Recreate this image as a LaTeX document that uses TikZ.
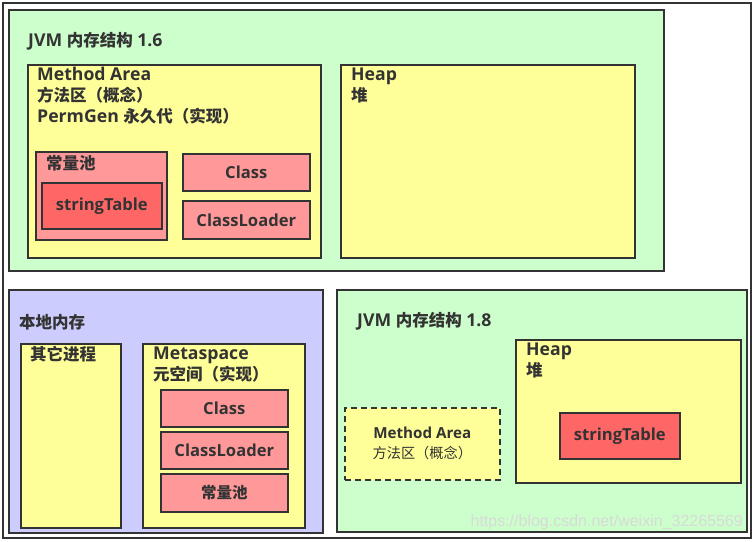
\documentclass[tikz,border=0pt]{standalone}
\usepackage{fontspec}
\setmainfont{Open Sans}[Scale=1.07]
\newfontfamily\cjk{Noto Sans CJK SC}
\newfontfamily\markfont{Liberation Sans}
\usetikzlibrary{positioning}
\definecolor{edge}{HTML}{333333}
\definecolor{jvmgreen}{HTML}{CCFFCC}
\definecolor{areayellow}{HTML}{FFFF99}
\definecolor{itempink}{HTML}{FF9999}
\definecolor{tablered}{HTML}{FF6666}
\definecolor{nativeblue}{HTML}{CCCCFF}

\tikzset{
  box/.style={draw=edge, line width=1.6pt, anchor=north west, inner sep=0pt},
  item/.style={box, fill=itempink, font=\bfseries\fontsize{15.5}{18}\selectfont, text=edge},
  lbl/.style={font=\bfseries\fontsize{16.5}{21}\selectfont, text=edge, anchor=west, align=left, inner sep=0pt},
}

\begin{document}
\begin{tikzpicture}[x=1pt, y=-1pt]
  \useasboundingbox (0,0) rectangle (754,541);
  \draw[edge, line width=1.4pt, fill=white] (3,3) rectangle (751,538);

  % JVM 1.6
  \node[box, fill=jvmgreen, minimum width=655pt, minimum height=261pt] (jvm16) at (8,9) {};
  \node[lbl] (jvm16title) at (28,41) {JVM {\cjk 内存结构} 1.6};
  \node[box, fill=areayellow, minimum width=293pt, minimum height=193pt] (ma16) at (27,64) {};
  \node[lbl] (ma16text) at (37,96) {Method Area\\{\cjk 方法区（概念）}\\PermGen {\cjk 永久代（实现）}};
  \node[box, fill=itempink, minimum width=131pt, minimum height=88pt] (pool16) at (35,151) {};
  \node[lbl] (pool16text) at (46,163) {\cjk 常量池};
  \node[item, fill=tablered, minimum width=120pt, minimum height=46pt] (st16) at (41,182) {stringTable};
  \node[item, minimum width=127pt, minimum height=37pt] (cls16) at (182,153) {Class};
  \node[item, minimum width=127pt, minimum height=38pt] (cl16) at (182,200) {ClassLoader};
  \node[box, fill=areayellow, minimum width=294pt, minimum height=193pt] (heap16) at (340,64) {};
  \node[lbl] (heap16text) at (351,85.5) {Heap\\{\cjk 堆}};

  % native memory
  \node[box, fill=nativeblue, minimum width=314pt, minimum height=243pt] (native) at (8,289) {};
  \node[lbl] (nativetitle) at (19,322) {\cjk 本地内存};
  \node[box, fill=areayellow, minimum width=100pt, minimum height=184pt] (other) at (20,343) {};
  \node[lbl] (othertext) at (30,354) {\cjk 其它进程};
  \node[box, fill=areayellow, minimum width=162pt, minimum height=184pt] (meta) at (142,343) {};
  \node[lbl] (metatext) at (153,364.5) {Metaspace\\{\cjk 元空间（实现）}};
  \node[item, minimum width=127pt, minimum height=37pt] (cls18) at (160,389) {Class};
  \node[item, minimum width=127pt, minimum height=37pt] (cl18) at (160,431) {ClassLoader};
  \node[item, minimum width=127pt, minimum height=38pt] (pool18) at (160,473) {\cjk 常量池};

  % JVM 1.8
  \node[box, fill=jvmgreen, minimum width=410pt, minimum height=242pt] (jvm18) at (336,289) {};
  \node[lbl] (jvm18title) at (357,321) {JVM {\cjk 内存结构} 1.8};
  \node[box, fill=areayellow, minimum width=225pt, minimum height=143pt] (heap18) at (515,339) {};
  \node[lbl] (heap18text) at (526,360.5) {Heap\\{\cjk 堆}};
  \node[item, fill=tablered, minimum width=120pt, minimum height=46pt] (st18) at (559,412) {stringTable};
  \node[box, dashed, dash pattern=on 6pt off 4pt, fill=areayellow, minimum width=155pt, minimum height=72pt,
        align=center, text=edge, font=\fontsize{14.2}{20}\selectfont] (ma18) at (344,407)
        {\textbf{Method Area}\\{\cjk 方法区（概念）}};

  \node[text=gray!30, font=\markfont\fontsize{16}{16}\selectfont, anchor=east, inner sep=0pt] (mark) at (743,522)
        {https://blog.csdn.net/weixin\_32265569};
\end{tikzpicture}
\end{document}
